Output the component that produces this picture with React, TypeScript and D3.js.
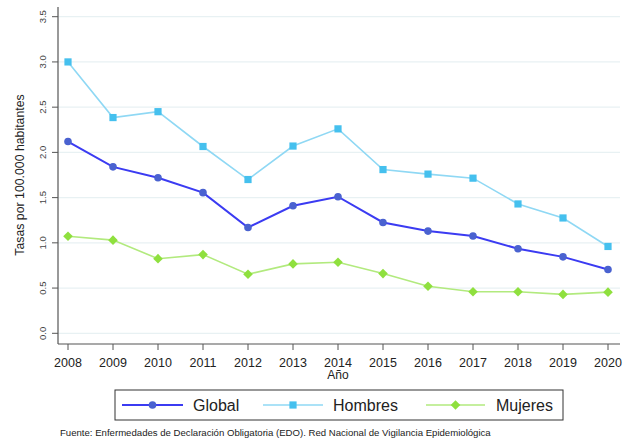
import React from "react";
import * as d3 from "d3";

const years = [2008, 2009, 2010, 2011, 2012, 2013, 2014, 2015, 2016, 2017, 2018, 2019, 2020];
const globalRates = [2.12, 1.84, 1.72, 1.555, 1.17, 1.41, 1.51, 1.225, 1.13, 1.075, 0.935, 0.845, 0.705];
const hombresRates = [3.0, 2.385, 2.45, 2.065, 1.7, 2.07, 2.26, 1.81, 1.76, 1.715, 1.43, 1.275, 0.96];
const mujeresRates = [1.073, 1.03, 0.825, 0.87, 0.653, 0.767, 0.785, 0.66, 0.52, 0.46, 0.46, 0.43, 0.455];
const yTicks = [0, 0.5, 1, 1.5, 2, 2.5, 3, 3.5];
const seriesNames = ["Global", "Hombres", "Mujeres"];

const W = 623, H = 440;
const x = d3.scaleLinear().domain([2008, 2020]).range([68, 608]);
const y = d3.scaleLinear().domain([0, 3.5]).range([333.3, 16.7]);

const styles = [
  { line: "#3b3bf2", marker: "#4a62d0", shape: "circle", width: 2 },
  { line: "#8fd8f4", marker: "#45c0ee", shape: "square", width: 1.6 },
  { line: "#b2ea7e", marker: "#8fe03e", shape: "diamond", width: 1.6 },
];
const allData = [globalRates, hombresRates, mujeresRates];

function Marker({ cx, cy, shape, color }: { cx: number; cy: number; shape: string; color: string }) {
  if (shape === "circle") return <circle cx={cx} cy={cy} r={3.8} fill={color} />;
  if (shape === "square") return <rect x={cx - 3.6} y={cy - 3.6} width={7.2} height={7.2} fill={color} />;
  const s = 4.8;
  return <path d={`M${cx},${cy - s}L${cx + s},${cy}L${cx},${cy + s}L${cx - s},${cy}Z`} fill={color} />;
}

export default function App() {
  const line = d3.line<number>().x((_, i) => x(years[i])).y((d) => y(d));
  const font = "Liberation Sans, Arial, sans-serif";
  const legendItems = [
    { x0: 122, x1: 183, tx: 193 },
    { x0: 263, x1: 323, tx: 333 },
    { x0: 426, x1: 485, tx: 496 },
  ];
  return (
    <svg width={W} height={H} style={{ position: "absolute", left: 0, top: 0, background: "#fff" }} fontFamily={font}>
      <rect width={W} height={H} fill="#fff" />
      {yTicks.map((t) => (
        <g key={t}>
          <line x1={58} x2={620} y1={y(t)} y2={y(t)} stroke="#e8f1f3" strokeWidth={1.2} />
          <line x1={52} x2={58} y1={y(t)} y2={y(t)} stroke="#555" strokeWidth={1} />
          <text
            transform={`translate(45.5,${y(t)}) rotate(-90)`}
            textAnchor="middle"
            fontSize={9.5}
            fill="#444"
          >
            {t.toFixed(1)}
          </text>
        </g>
      ))}
      <line x1={58} x2={58} y1={7} y2={344} stroke="#555" strokeWidth={1.2} />
      <line x1={58} x2={620} y1={344} y2={344} stroke="#555" strokeWidth={1.2} />
      {years.map((yr) => (
        <g key={yr}>
          <line x1={x(yr)} x2={x(yr)} y1={344} y2={350} stroke="#555" strokeWidth={1} />
          <text x={x(yr)} y={366.5} textAnchor="middle" fontSize={12.5} fill="#222">
            {yr}
          </text>
        </g>
      ))}
      <text x={338} y={379} textAnchor="middle" fontSize={12} fill="#222">Año</text>
      <text transform="translate(24,175) rotate(-90)" textAnchor="middle" fontSize={12.3} fill="#222">
        Tasas por 100.000 habitantes
      </text>
      {allData.map((data, si) => (
        <g key={si}>
          <path d={line(data) || ""} fill="none" stroke={styles[si].line} strokeWidth={styles[si].width} />
          {data.map((v, i) => (
            <Marker key={i} cx={x(years[i])} cy={y(v)} shape={styles[si].shape} color={styles[si].marker} />
          ))}
        </g>
      ))}
      <rect x={115} y={390} width={448} height={30} fill="#fff" stroke="#333" strokeWidth={1} />
      {legendItems.map((it, i) => (
        <g key={i}>
          <line x1={it.x0} x2={it.x1} y1={405} y2={405} stroke={styles[i].line} strokeWidth={styles[i].width} />
          <Marker cx={(it.x0 + it.x1) / 2} cy={405} shape={styles[i].shape} color={styles[i].marker} />
          <text x={it.tx} y={411} fontSize={16} fill="#222">{seriesNames[i]}</text>
        </g>
      ))}
      <text x={60} y={436} fontSize={9.6} fill="#222">
        Fuente: Enfermedades de Declaración Obligatoria (EDO). Red Nacional de Vigilancia Epidemiológica
      </text>
    </svg>
  );
}
